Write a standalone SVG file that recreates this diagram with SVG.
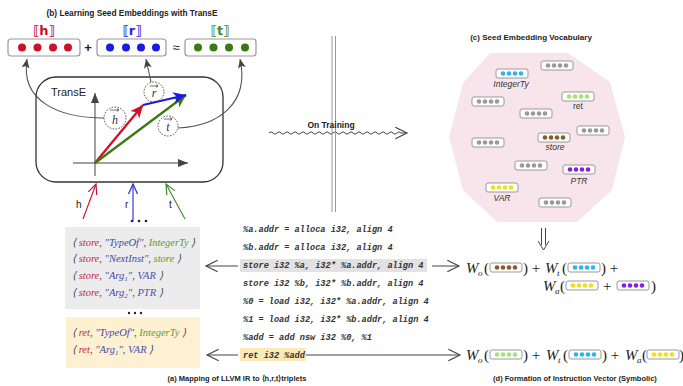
<svg xmlns="http://www.w3.org/2000/svg" xmlns:xlink="http://www.w3.org/1999/xlink" width="683" height="386" viewBox="0 0 683 386">
<style>
.cap{font-family:"Liberation Sans",Arial,sans-serif;font-weight:bold;font-size:8px;fill:#222;text-anchor:middle}
.lbl{font-family:"Liberation Sans",Arial,sans-serif;font-size:10px;fill:#222}
.vl{font-family:"Liberation Sans",Arial,sans-serif;font-style:italic;font-size:8.5px;fill:#333;text-anchor:middle}
.code{font-family:"Liberation Mono","Courier New",monospace;font-weight:bold;font-style:italic;font-size:8.6px;fill:#333}
.trip{font-family:"Liberation Serif","Times New Roman",serif;font-style:italic;font-size:10.5px;fill:#444}
.h{fill:#c42a3c}.rel{fill:#4848a8}.tl{fill:#5f9a34}.ar{fill:#5050b0}
.fm{font-family:"Liberation Serif","Times New Roman",serif;font-size:15px;fill:#222}
.fw{font-style:italic}
.sub{font-family:"Liberation Serif","Times New Roman",serif;font-style:italic;font-size:9px;fill:#222}
.bigbox{fill:#fff;stroke:#999;stroke-width:1.2}
.conn{fill:none;stroke:#444;stroke-width:1}
.curve{fill:none;stroke:#555;stroke-width:1.1}
.dc{fill:#fff;stroke:#333;stroke-width:0.9;stroke-dasharray:1.5,1.5}
.bl{font-family:"DejaVu Sans","Liberation Sans",sans-serif;font-weight:bold;font-size:13px;text-anchor:middle}
</style>
<defs>
<g id="vec">
<rect x="0" y="0" width="32" height="9" rx="2" fill="#fff" stroke="#999" stroke-width="1"/>
<circle cx="7" cy="4.5" r="2.3" fill="currentColor"/>
<circle cx="13" cy="4.5" r="2.3" fill="currentColor"/>
<circle cx="19" cy="4.5" r="2.3" fill="currentColor"/>
<circle cx="25" cy="4.5" r="2.3" fill="currentColor"/>
</g>
<marker id="open" markerUnits="userSpaceOnUse" markerWidth="14" markerHeight="14" refX="10" refY="5" orient="auto" viewBox="0 0 12 10">
<path d="M0,0 L10,5 L0,10" fill="none" stroke="#444" stroke-width="1"/>
</marker>
<marker id="openR" markerUnits="userSpaceOnUse" markerWidth="12" markerHeight="12" refX="10" refY="5" orient="auto" viewBox="0 0 12 10">
<path d="M0,0.5 L10,5 L0,9.5" fill="none" stroke="#c8102e" stroke-width="1.2"/>
</marker>
<marker id="openB" markerUnits="userSpaceOnUse" markerWidth="12" markerHeight="12" refX="10" refY="5" orient="auto" viewBox="0 0 12 10">
<path d="M0,0.5 L10,5 L0,9.5" fill="none" stroke="#2a2ad0" stroke-width="1.2"/>
</marker>
<marker id="openG" markerUnits="userSpaceOnUse" markerWidth="12" markerHeight="12" refX="10" refY="5" orient="auto" viewBox="0 0 12 10">
<path d="M0,0.5 L10,5 L0,9.5" fill="none" stroke="#3a8a20" stroke-width="1.2"/>
</marker>
<marker id="fill" markerUnits="userSpaceOnUse" markerWidth="10" markerHeight="10" refX="9" refY="4" orient="auto" viewBox="0 0 10 8">
<path d="M0,0 L9,4 L0,8 L2,4 Z" fill="#444"/>
</marker>
<marker id="ax" markerUnits="userSpaceOnUse" markerWidth="12" markerHeight="10" refX="10" refY="4" orient="auto" viewBox="0 0 12 8">
<path d="M0,0 L10,4 L0,8 Z" fill="#444"/>
</marker>
<marker id="vR" markerUnits="userSpaceOnUse" markerWidth="14" markerHeight="12" refX="11" refY="5" orient="auto" viewBox="0 0 12 10">
<path d="M0,0 L11,5 L0,10 L3,5 Z" fill="#d0102a"/>
</marker>
<marker id="vB" markerUnits="userSpaceOnUse" markerWidth="14" markerHeight="12" refX="11" refY="5" orient="auto" viewBox="0 0 12 10">
<path d="M0,0 L11,5 L0,10 L3,5 Z" fill="#1a1ae0"/>
</marker>
<marker id="vG" markerUnits="userSpaceOnUse" markerWidth="14" markerHeight="12" refX="11" refY="5" orient="auto" viewBox="0 0 12 10">
<path d="M0,0 L11,5 L0,10 L3,5 Z" fill="#3a7a10"/>
</marker>
</defs>

<rect width="683" height="386" fill="#fff"/>

<!-- (b) TransE panel -->
<text class="cap" x="132" y="16" style="font-size:8.3px">(b) Learning Seed Embeddings with TransE</text>

<g id="emb-h">
<text class="bl" x="44" y="35" fill="#c8102e">⟦h⟧</text>
<rect class="bigbox" x="8" y="39" width="72" height="17" rx="3"/>
<circle cx="22" cy="47.5" r="4" fill="#d0102a"/><circle cx="37.5" cy="47.5" r="4" fill="#d0102a"/><circle cx="53" cy="47.5" r="4" fill="#d0102a"/><circle cx="68" cy="47.5" r="4" fill="#d0102a"/>
</g>
<text class="lbl" x="88" y="52" text-anchor="middle" style="font-size:13px;font-weight:bold">+</text>
<g id="emb-r">
<text class="bl" x="132" y="35" fill="#2a2ad0">⟦r⟧</text>
<rect class="bigbox" x="97" y="39" width="69" height="17" rx="3"/>
<circle cx="110" cy="47.5" r="4" fill="#1a1ae0"/><circle cx="126" cy="47.5" r="4" fill="#1a1ae0"/><circle cx="141" cy="47.5" r="4" fill="#1a1ae0"/><circle cx="156" cy="47.5" r="4" fill="#1a1ae0"/>
</g>
<text class="lbl" x="176" y="52" text-anchor="middle" style="font-size:13px">≈</text>
<g id="emb-t">
<text class="bl" x="220" y="35" fill="#4f8a2a">⟦t⟧</text>
<rect class="bigbox" x="185" y="39" width="71" height="17" rx="3"/>
<circle cx="198" cy="47.5" r="4" fill="#3a7a10"/><circle cx="213.5" cy="47.5" r="4" fill="#3a7a10"/><circle cx="229" cy="47.5" r="4" fill="#3a7a10"/><circle cx="245" cy="47.5" r="4" fill="#3a7a10"/>
</g>

<g id="transe">
<rect x="36" y="77" width="187" height="105" rx="20" fill="#fff" stroke="#333" stroke-width="1.3"/>
<text class="lbl" x="51" y="96" style="font-size:11px">TransE</text>
<line x1="95" y1="176" x2="95" y2="93" stroke="#444" stroke-width="1" marker-end="url(#ax)"/>
<line x1="73" y1="163" x2="188" y2="163" stroke="#444" stroke-width="1" marker-end="url(#ax)"/>
<circle class="dc" cx="115" cy="118" r="11"/>
<circle class="dc" cx="154" cy="92" r="10"/>
<circle class="dc" cx="168" cy="126" r="10"/>
<line x1="95" y1="163" x2="143" y2="105" stroke="#d0102a" stroke-width="2.3" marker-end="url(#vR)"/>
<line x1="95" y1="163" x2="186" y2="95" stroke="#3a7a10" stroke-width="2.3" marker-end="url(#vG)"/>
<line x1="143" y1="105" x2="186" y2="95" stroke="#1a1ae0" stroke-width="2.3" marker-end="url(#vB)"/>
<text class="trip" x="115" y="124" text-anchor="middle" style="font-size:12px;fill:#333">h</text>
<path d="M110,110 h9 m-2,-1.5 l2,1.5 l-2,1.5" fill="none" stroke="#333" stroke-width="0.7"/>
<text class="trip" x="154" y="97" text-anchor="middle" style="font-size:12px;fill:#333">r</text>
<path d="M150,86 h8 m-2,-1.5 l2,1.5 l-2,1.5" fill="none" stroke="#333" stroke-width="0.7"/>
<text class="trip" x="168" y="131" text-anchor="middle" style="font-size:12px;fill:#333">t</text>
<path d="M164,119 h8 m-2,-1.5 l2,1.5 l-2,1.5" fill="none" stroke="#333" stroke-width="0.7"/>
</g>

<g id="inputs">
<text class="lbl" x="76" y="208">h</text>
<text class="lbl" x="125" y="208">r</text>
<text class="lbl" x="169" y="208">t</text>
<circle cx="132" cy="221" r="1.3" fill="#222"/><circle cx="139" cy="221" r="1.3" fill="#222"/><circle cx="146" cy="221" r="1.3" fill="#222"/>
</g>

<g id="connectors">
<path class="curve" d="M104,118 C60,118 20,102 27,59" marker-end="url(#fill)"/>
<path class="curve" d="M151,82 L146,59" marker-end="url(#fill)"/>
<path class="curve" d="M178,128 C218,126 250,104 240,59" marker-end="url(#fill)"/>
<line x1="83" y1="219" x2="96" y2="184" stroke="#c8102e" stroke-width="1.1" marker-end="url(#openR)"/>
<line x1="133" y1="221" x2="133" y2="184" stroke="#2a2ad0" stroke-width="1.1" marker-end="url(#openB)"/>
<line x1="185" y1="219" x2="166" y2="184" stroke="#3a8a20" stroke-width="1.1" marker-end="url(#openG)"/>
<path class="conn" d="M269,133 q2,-2.5 4,0 t4,0 t4,0 t4,0 t4,0 t4,0 t4,0 t4,0 t4,0 t4,0 t4,0 t4,0 t4,0 t4,0 t4,0 t4,0 t4,0 t4,0 t4,0 t4,0 t4,0 t4,0 t4,0 t4,0 t4,0 t4,0 t4,0 t4,0 t4,0 t4,0 t4,0 t4,0 t4,0 h6" marker-end="url(#open)"/>
<line x1="238" y1="266" x2="206" y2="266" class="conn" marker-end="url(#open)"/>
<line x1="238" y1="355" x2="207" y2="355" class="conn" marker-end="url(#open)"/>
<line x1="432" y1="266" x2="459" y2="266" class="conn" marker-end="url(#open)"/>
<line x1="306" y1="355" x2="460" y2="355" class="conn" marker-end="url(#open)"/>
<path d="M541.5,228 V245 M545.5,228 V245" stroke="#444" stroke-width="1" fill="none"/>
<path d="M538,241 L543.5,250 L549,241" stroke="#444" stroke-width="1" fill="none"/>
</g>

<!-- divider -->
<g id="divider">
<line x1="332" y1="36" x2="332" y2="212" stroke="#999" stroke-width="1"/>
<line x1="335.5" y1="36" x2="335.5" y2="212" stroke="#999" stroke-width="1"/>
<text class="cap" x="331" y="128" style="font-size:8.5px">On Training</text>
</g>

<!-- (c) vocabulary -->
<text class="cap" x="531" y="40">(c) Seed Embedding Vocabulary</text>
<g id="vocab">
<polygon points="490,53 568,53 610,82 625,137 612,190 577,222 497,222 463,190 449,137 463,83" fill="#f8e5ec"/>
<use href="#vec" x="496" y="69" color="#2cb6ea"/>
<text class="vl" x="511" y="87">IntegerTy</text>
<use href="#vec" x="541" y="61" color="#999"/>
<use href="#vec" x="562" y="92" color="#a8e07c"/>
<text class="vl" x="578" y="109" style="font-style:normal">ret</text>
<use href="#vec" x="472" y="97" color="#999"/>
<use href="#vec" x="520" y="109" color="#999"/>
<use href="#vec" x="577" y="126" color="#999"/>
<use href="#vec" x="538" y="133" color="#8b5a2b"/>
<text class="vl" x="555" y="150">store</text>
<use href="#vec" x="472" y="138" color="#999"/>
<use href="#vec" x="515" y="161" color="#999"/>
<use href="#vec" x="563" y="165" color="#8a1ce6"/>
<text class="vl" x="579" y="184">PTR</text>
<use href="#vec" x="486" y="183" color="#f0e01a"/>
<text class="vl" x="502" y="201">VAR</text>
<use href="#vec" x="539" y="198" color="#999"/>
</g>

<!-- (a) triplets -->
<g id="triplets-store">
<rect x="65" y="227" width="135" height="82" fill="#ececec"/>
<text class="trip" x="72" y="246">⟨ <tspan class="h">store</tspan>, <tspan class="rel">"TypeOf"</tspan>, <tspan class="tl">IntegerTy</tspan> ⟩</text>
<text class="trip" x="72" y="262">⟨ <tspan class="h">store</tspan>, <tspan class="rel">"NextInst"</tspan>, <tspan class="tl">store</tspan> ⟩</text>
<text class="trip" x="72" y="279">⟨ <tspan class="h">store</tspan>, <tspan class="rel">"Arg<tspan style="font-size:7px" dy="2">1</tspan><tspan dy="-2">"</tspan></tspan>, <tspan class="ar">VAR</tspan> ⟩</text>
<text class="trip" x="72" y="296">⟨ <tspan class="h">store</tspan>, <tspan class="rel">"Arg<tspan style="font-size:7px" dy="2">2</tspan><tspan dy="-2">"</tspan></tspan>, <tspan class="ar">PTR</tspan> ⟩</text>
</g>
<g id="dots-mid">
<circle cx="129" cy="313" r="1.2" fill="#222"/><circle cx="135" cy="313" r="1.2" fill="#222"/><circle cx="141" cy="313" r="1.2" fill="#222"/>
</g>
<g id="triplets-ret">
<rect x="66" y="317" width="134" height="51" fill="#fdf1d2"/>
<text class="trip" x="72" y="336">⟨ <tspan class="h">ret</tspan>, <tspan class="rel">"TypeOf"</tspan>, <tspan class="tl">IntegerTy</tspan> ⟩</text>
<text class="trip" x="72" y="353">⟨ <tspan class="h">ret</tspan>, <tspan class="rel">"Arg<tspan style="font-size:7px" dy="2">1</tspan><tspan dy="-2">"</tspan></tspan>, <tspan class="ar">VAR</tspan> ⟩</text>
</g>

<g id="code">
<rect x="240" y="259" width="187" height="13" fill="#e2e2e2"/>
<rect x="240" y="348" width="66" height="13" fill="#fde8b8"/>
<text class="code" x="243" y="232">%a.addr = alloca i32, align 4</text>
<text class="code" x="243" y="250">%b.addr = alloca i32, align 4</text>
<text class="code" x="243" y="268">store i32 %a, i32* %a.addr, align 4</text>
<text class="code" x="243" y="286">store i32 %b, i32* %b.addr, align 4</text>
<text class="code" x="243" y="304">%0 = load i32, i32* %a.addr, align 4</text>
<text class="code" x="243" y="322">%1 = load i32, i32* %b.addr, align 4</text>
<text class="code" x="243" y="340">%add = add nsw i32 %0, %1</text>
<text class="code" x="243" y="358">ret i32 %add</text>
</g>
<text class="cap" x="237" y="381" style="font-size:7.5px">(a) Mapping of LLVM IR to ⟨h,r,t⟩triplets</text>

<!-- (d) formulas -->
<g id="formula-store">
<text class="fm" x="466" y="273"><tspan class="fw">W</tspan></text><text class="sub" x="478" y="276">o</text>
<text class="fm" x="484" y="273">(</text>
<use href="#vec" x="490" y="263" color="#8b5a2b"/>
<text class="fm" x="523" y="273">) +</text>
<text class="fm" x="545" y="273"><tspan class="fw">W</tspan></text><text class="sub" x="557" y="276">t</text>
<text class="fm" x="562" y="273">(</text>
<use href="#vec" x="568" y="263" color="#2cb6ea"/>
<text class="fm" x="601" y="273">) +</text>
<text class="fm" x="543" y="291"><tspan class="fw">W</tspan></text><text class="sub" x="555" y="294">a</text>
<text class="fm" x="560" y="291">(</text>
<use href="#vec" x="566" y="281" color="#f0e01a"/>
<text class="fm" x="603" y="291">+</text>
<use href="#vec" x="617" y="281" color="#8a1ce6"/>
<text class="fm" x="651" y="291">)</text>
</g>
<g id="formula-ret">
<text class="fm" x="466" y="360"><tspan class="fw">W</tspan></text><text class="sub" x="478" y="363">o</text>
<text class="fm" x="484" y="360">(</text>
<use href="#vec" x="490" y="350" color="#a8e07c"/>
<text class="fm" x="523" y="360">) +</text>
<text class="fm" x="546" y="360"><tspan class="fw">W</tspan></text><text class="sub" x="558" y="363">t</text>
<text class="fm" x="563" y="360">(</text>
<use href="#vec" x="569" y="350" color="#2cb6ea"/>
<text class="fm" x="602" y="360">) +</text>
<text class="fm" x="625" y="360"><tspan class="fw">W</tspan></text><text class="sub" x="637" y="363">a</text>
<text class="fm" x="642" y="360">(</text>
<use href="#vec" x="647" y="350" color="#f0e01a"/>
<text class="fm" x="679" y="360">)</text>
</g>
<text class="cap" x="575" y="381" style="font-size:7.5px">(d) Formation of Instruction Vector (Symbolic)</text>
</svg>
